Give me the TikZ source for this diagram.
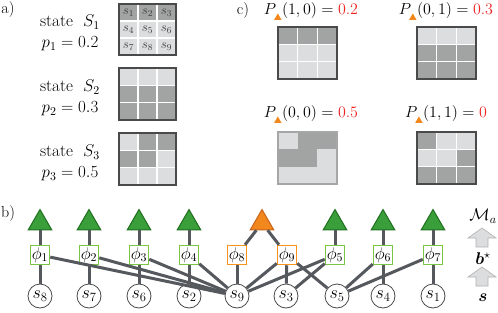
\RequirePackage{fix-cm}
\documentclass[tikz,border=0pt]{standalone}
\usepackage{amsmath,bm}
\usetikzlibrary{shapes.geometric}
\definecolor{dk}{HTML}{A2A4A4}
\definecolor{lt}{HTML}{DCDDDF}
\definecolor{edgec}{HTML}{55595E}
\definecolor{grn}{HTML}{3A9E3A}
\definecolor{grnd}{HTML}{1F6F1F}
\definecolor{grnb}{HTML}{7CC443}
\definecolor{ora}{HTML}{F2871E}
\definecolor{orad}{HTML}{C9631A}
\definecolor{orab}{HTML}{F7941D}
\definecolor{rd}{HTML}{EE2222}
\definecolor{gb}{HTML}{4A4A4A}
\newcommand\cellgrid[6]{% x y w h list border
  \foreach \c [count=\i from 0] in {#5} {
    \pgfmathtruncatemacro\cc{mod(\i,3)}
    \pgfmathtruncatemacro\rr{div(\i,3)}
    \fill[\c] ({#1+\cc*#3/3},{#2+\rr*#4/3}) rectangle ++({#3/3},{#4/3});
  }
  \ifx&#6&\else
  \draw[white,line width=1.2pt] ({#1+#3/3},#2)--++(0,#4) ({#1+2*#3/3},#2)--++(0,#4)
     (#1,{#2+#4/3})--++(#3,0) (#1,{#2+2*#4/3})--++(#3,0);
  \fi
}
\newcommand\ptri{\tikz[x=1pt,y=1pt,baseline=0pt]\fill[ora] (0,-3.5)--(7.5,-3.5)--(3.75,3)--cycle;}
\begin{document}
\begin{tikzpicture}[x=1pt,y=-1pt,font=\fontsize{17}{20}\selectfont,
  tri/.style={regular polygon,regular polygon sides=3,minimum size=27pt,inner sep=0pt,fill=grn,draw=grnd,line width=1pt},
  otri/.style={tri,fill=ora,draw=orad},
  fac/.style={rectangle,minimum size=19pt,inner sep=0pt,fill=white,draw=grnb,line width=1.5pt,font=\fontsize{17}{20}\selectfont},
  ofac/.style={fac,draw=orab},
  var/.style={circle,minimum size=24pt,inner sep=0pt,fill=white,draw=gb,line width=0.8pt,font=\fontsize{18}{20}\selectfont},
  conn/.style={draw=edgec,line width=3pt},
  lbl/.style={inner sep=0pt},
  plbl/.style={inner sep=0pt,font=\fontsize{16}{18}\selectfont},
  cl/.style={inner sep=0pt,text=gb!80!black,font=\fontsize{13}{14}\selectfont},
  legarrow/.style={fill=lt,draw=gray!60,line width=0.6pt}]
\useasboundingbox (0,0) rectangle (498,313);
% panel labels
\node[plbl] (la) at (8,10) {a)};
\node[plbl] (lb) at (8,214) {b)};
\node[plbl] (lc) at (243,11) {c)};
% panel a
\node[lbl,align=center] (t1) at (70,33) {state~~$S_1$\\[1pt]$p_1=0.2$};
\node[lbl,align=center] (t2) at (70,98) {state~~$S_2$\\[1pt]$p_2=0.3$};
\node[lbl,align=center] (t3) at (70,163) {state~~$S_3$\\[1pt]$p_3=0.5$};
\cellgrid{119}{4}{57}{51}{dk,dk,dk,lt,lt,lt,lt,lt,lt}{w}
\draw[gb,line width=1.2pt] (119,4) rectangle (176,55);
\foreach \k [count=\i from 0] in {1,...,9}{
  \pgfmathsetmacro\xx{119+(mod(\i,3)+0.5)*19}
  \pgfmathsetmacro\yy{4+(div(\i,3)+0.5)*17}
  \node[cl] (c\k) at (\xx,\yy) {$s_{\k}$};
}
\cellgrid{119}{68}{57}{52}{lt,lt,lt,dk,dk,dk,dk,dk,dk}{w}
\draw[gb,line width=1.2pt] (119,68) rectangle (176,120);
\cellgrid{119}{133}{57}{52}{lt,dk,dk,dk,dk,lt,lt,lt,lt}{w}
\draw[gb,line width=1.2pt] (119,133) rectangle (176,185);
% panel c
\node[plbl] (q1) at (311,11) {$P_{\ptri}(1,0)={\color{rd}0.2}$};
\node[plbl] (q2) at (446,11) {$P_{\ptri}(0,1)={\color{rd}0.3}$};
\node[plbl] (q3) at (311,114) {$P_{\ptri}(0,0)={\color{rd}0.5}$};
\node[plbl] (q4) at (446,114) {$P_{\ptri}(1,1)={\color{rd}0}$};
\cellgrid{278}{27}{59}{52}{dk,dk,dk,lt,lt,lt,lt,lt,lt}{w}
\draw[gb,line width=1.2pt] (278,27) rectangle (337,79);
\cellgrid{417}{27}{59}{52}{lt,lt,lt,dk,dk,dk,dk,dk,dk}{w}
\draw[gb,line width=1.2pt] (417,27) rectangle (476,79);
\cellgrid{278}{132}{59}{52}{lt,dk,dk,dk,dk,lt,lt,lt,lt}{}
\draw[gray!70,line width=1.2pt] (278,132) rectangle (337,184);
\cellgrid{417}{132}{59}{52}{dk,lt,lt,lt,lt,dk,dk,dk,dk}{w}
\draw[gb,line width=1.2pt] (417,132) rectangle (476,184);
% panel b
\foreach \n/\x in {1/40,2/89,3/139,4/189,5/335,6/383,7/433}{
  \node[tri] (m\n) at (\x,223) {};
  \node[fac] (f\n) at (\x,255) {$\phi_{\n}$};
}
\node[otri] (mo) at (262,223) {};
\node[ofac] (f8) at (237,255) {$\phi_8$};
\node[ofac] (f9) at (287,255) {$\phi_9$};
\foreach \n/\x in {8/40,7/89,6/139,2/189,9/237,3/286,5/337,4/383,1/433}{
  \node[var] (s\n) at (\x,296) {$s_{\n}$};
}
% connectors
\foreach \n in {1,...,7}{ \draw[conn] (m\n) -- (f\n); }
\draw[conn] (mo) -- (f8);
\draw[conn] (mo) -- (f9);
\draw[conn] (f1) -- (s8);
\draw[conn] (f2) -- (s7);
\draw[conn] (f3) -- (s6);
\draw[conn] (f4) -- (s2);
\draw[conn] (f1) -- (s9);
\draw[conn] (f2) -- (s9);
\draw[conn] (f3) -- (s9);
\draw[conn] (f4) -- (s9);
\draw[conn] (f8) -- (s9);
\draw[conn] (f9) -- (s9);
\draw[conn] (f9) -- (s3);
\draw[conn] (f9) -- (s5);
\draw[conn] (f5) -- (s9);
\draw[conn] (f5) -- (s3);
\draw[conn] (f6) -- (s4);
\draw[conn] (f6) -- (s5);
\draw[conn] (f7) -- (s1);
\draw[conn] (f7) -- (s5);
% legend
\node[lbl] (lm) at (483,216) {$\mathcal{M}_a$};
\draw[legarrow] (476,247)--(476,238)--(468,238)--(482,228)--(496,238)--(488,238)--(488,247)--cycle;
\node[lbl] (lbs) at (483,259) {$\bm{b}^{\star}$};
\draw[legarrow] (476,286)--(476,277)--(468,277)--(482,267)--(496,277)--(488,277)--(488,286)--cycle;
\node[lbl] (ls) at (483,298) {$\bm{s}$};
\end{tikzpicture}
\end{document}
